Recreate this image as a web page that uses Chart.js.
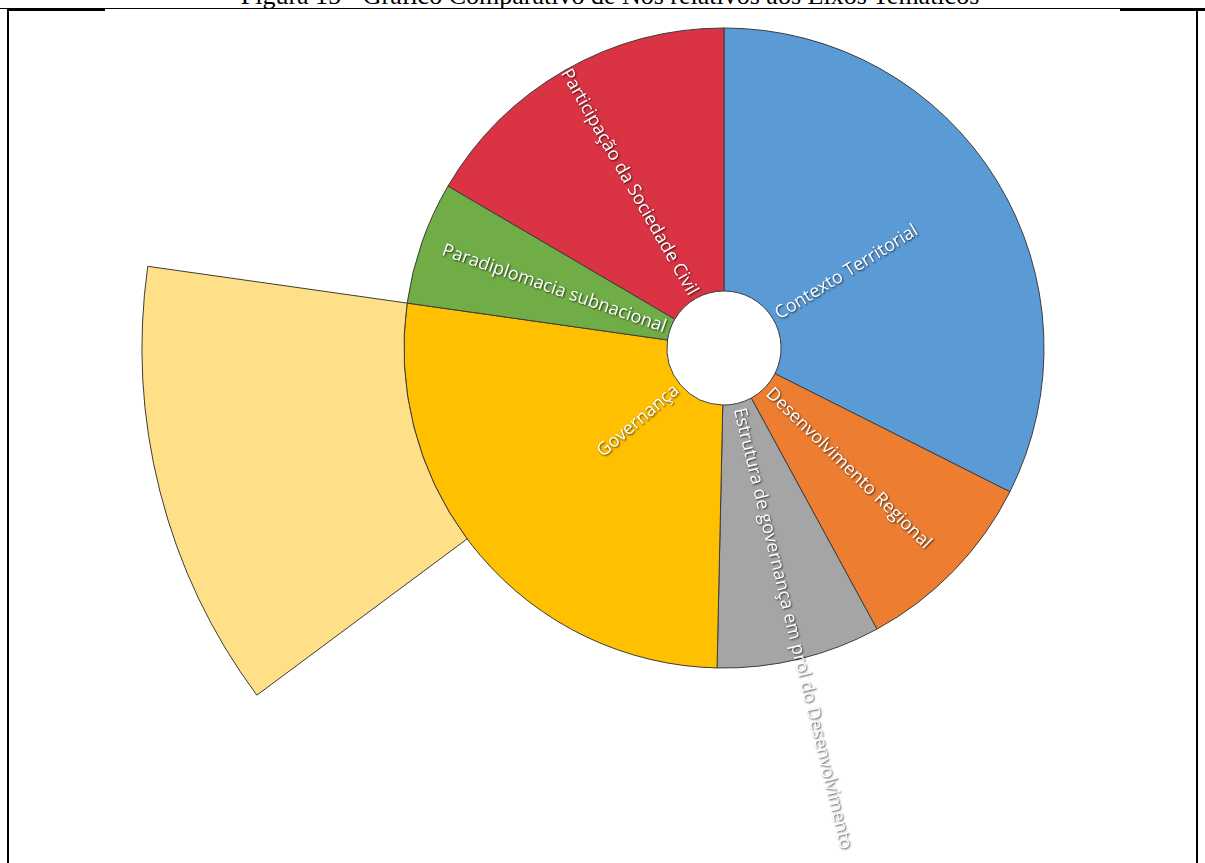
<!DOCTYPE html>
<html lang="pt">
<head>
<meta charset="utf-8">
<title>Figura 15 - Gráfico Comparativo de Nós relativos aos Eixos Temáticos</title>
<script src="https://cdn.jsdelivr.net/npm/chart.js@4"></script>
<style>
  html, body { margin: 0; padding: 0; background: #fff; }
  #page { position: relative; width: 1205px; height: 863px; overflow: hidden; }
  #title {
    position: absolute; left: 0; width: 1220px; top: -17px; text-align: center;
    font-family: "Liberation Serif", "Times New Roman", serif; font-size: 26px; line-height: 26px;
    color: #000; white-space: nowrap;
  }
  .rule { position: absolute; background: #000; }
  #chartBox { position: absolute; left: 0; top: 0; width: 1205px; height: 863px; }
</style>
</head>
<body>
<div id="page">
  <div id="title">Figura 15 - Gráfico Comparativo de Nós relativos aos Eixos Temáticos</div>
  <div class="rule" style="left:0; top:8px; width:1205px; height:1px;"></div>
  <div class="rule" style="left:7px; top:9px; width:98px; height:2px;"></div>
  <div class="rule" style="left:1120px; top:9px; width:85px; height:2px;"></div>
  <div class="rule" style="left:7px; top:9px; width:2px; height:854px;"></div>
  <div class="rule" style="left:1196px; top:9px; width:2px; height:854px;"></div>
  <div id="chartBox"><canvas id="eixosChart" width="1205" height="863"></canvas></div>
</div>
<script>
// Nós por eixo temático (fatias do anel principal, sentido horário a partir do topo).
const categories = [
  'Contexto Territorial',
  'Desenvolvimento Regional',
  'Estrutura de governança em prol do Desenvolvimento',
  'Governança',
  'Paradiplomacia subnacional',
  'Participação da Sociedade Civil',
];
const nodeCounts = [47, 14, 12, 39, 9, 24];
const sliceColors = ['#5B9BD5', '#ED7D31', '#A5A5A5', '#FFC000', '#70AD47', '#DA3343'];

// Anel externo: só a parte destacada de Governança aparece, o resto é vazio.
const highlightLabels = ['', 'Governança (destaque)', ''];
const highlightCounts = [94, 18, 33];
const highlightColors = ['rgba(0,0,0,0)', '#FFDF87', 'rgba(0,0,0,0)'];

const BORDER = '#3c3c3c';

// Rótulos radiais: metade direita lê para fora, metade esquerda lê para o centro.
const radialLabels = {
  id: 'radialLabels',
  afterDatasetsDraw(chart) {
    const meta = chart.getDatasetMeta(1);
    const { ctx } = chart;
    ctx.save();
    ctx.font = '18px "Open Sans", "Noto Sans", sans-serif';
    ctx.textBaseline = 'middle';
    ctx.fillStyle = '#ffffff';
    ctx.shadowColor = 'rgba(0,0,0,0.7)';
    ctx.shadowOffsetX = 1;
    ctx.shadowOffsetY = 1;
    ctx.shadowBlur = 2;
    meta.data.forEach((arc, i) => {
      const { x, y, startAngle, endAngle, innerRadius } = arc.getProps(
        ['x', 'y', 'startAngle', 'endAngle', 'innerRadius'], true);
      const mid = (startAngle + endAngle) / 2;
      const r0 = innerRadius + 5;
      ctx.save();
      ctx.translate(x, y);
      if (Math.cos(mid) >= 0) {
        ctx.rotate(mid);
        ctx.textAlign = 'left';
        ctx.fillText(categories[i], r0, 0);
      } else {
        ctx.rotate(mid + Math.PI);
        ctx.textAlign = 'right';
        ctx.fillText(categories[i], -r0, 0);
      }
      ctx.restore();
    });
    ctx.restore();
  },
};

new Chart(document.getElementById('eixosChart'), {
  type: 'doughnut',
  data: {
    labels: categories,
    datasets: [
      {
        label: 'Destaque',
        data: highlightCounts,
        backgroundColor: highlightColors,
        borderColor: ['rgba(0,0,0,0)', BORDER, 'rgba(0,0,0,0)'],
        borderWidth: 1,
        weight: 262,
      },
      {
        label: 'Nós',
        data: nodeCounts,
        backgroundColor: sliceColors,
        borderColor: BORDER,
        borderWidth: 1,
        weight: 263,
      },
    ],
  },
  options: {
    responsive: false,
    animation: false,
    radius: 582,
    cutout: '9.8%',
    clip: false,
    layout: { padding: { left: 243, right: 0, top: 0, bottom: 167 } },
    plugins: {
      legend: { display: false },
      tooltip: { enabled: false },
    },
  },
  plugins: [radialLabels],
});
</script>
</body>
</html>
